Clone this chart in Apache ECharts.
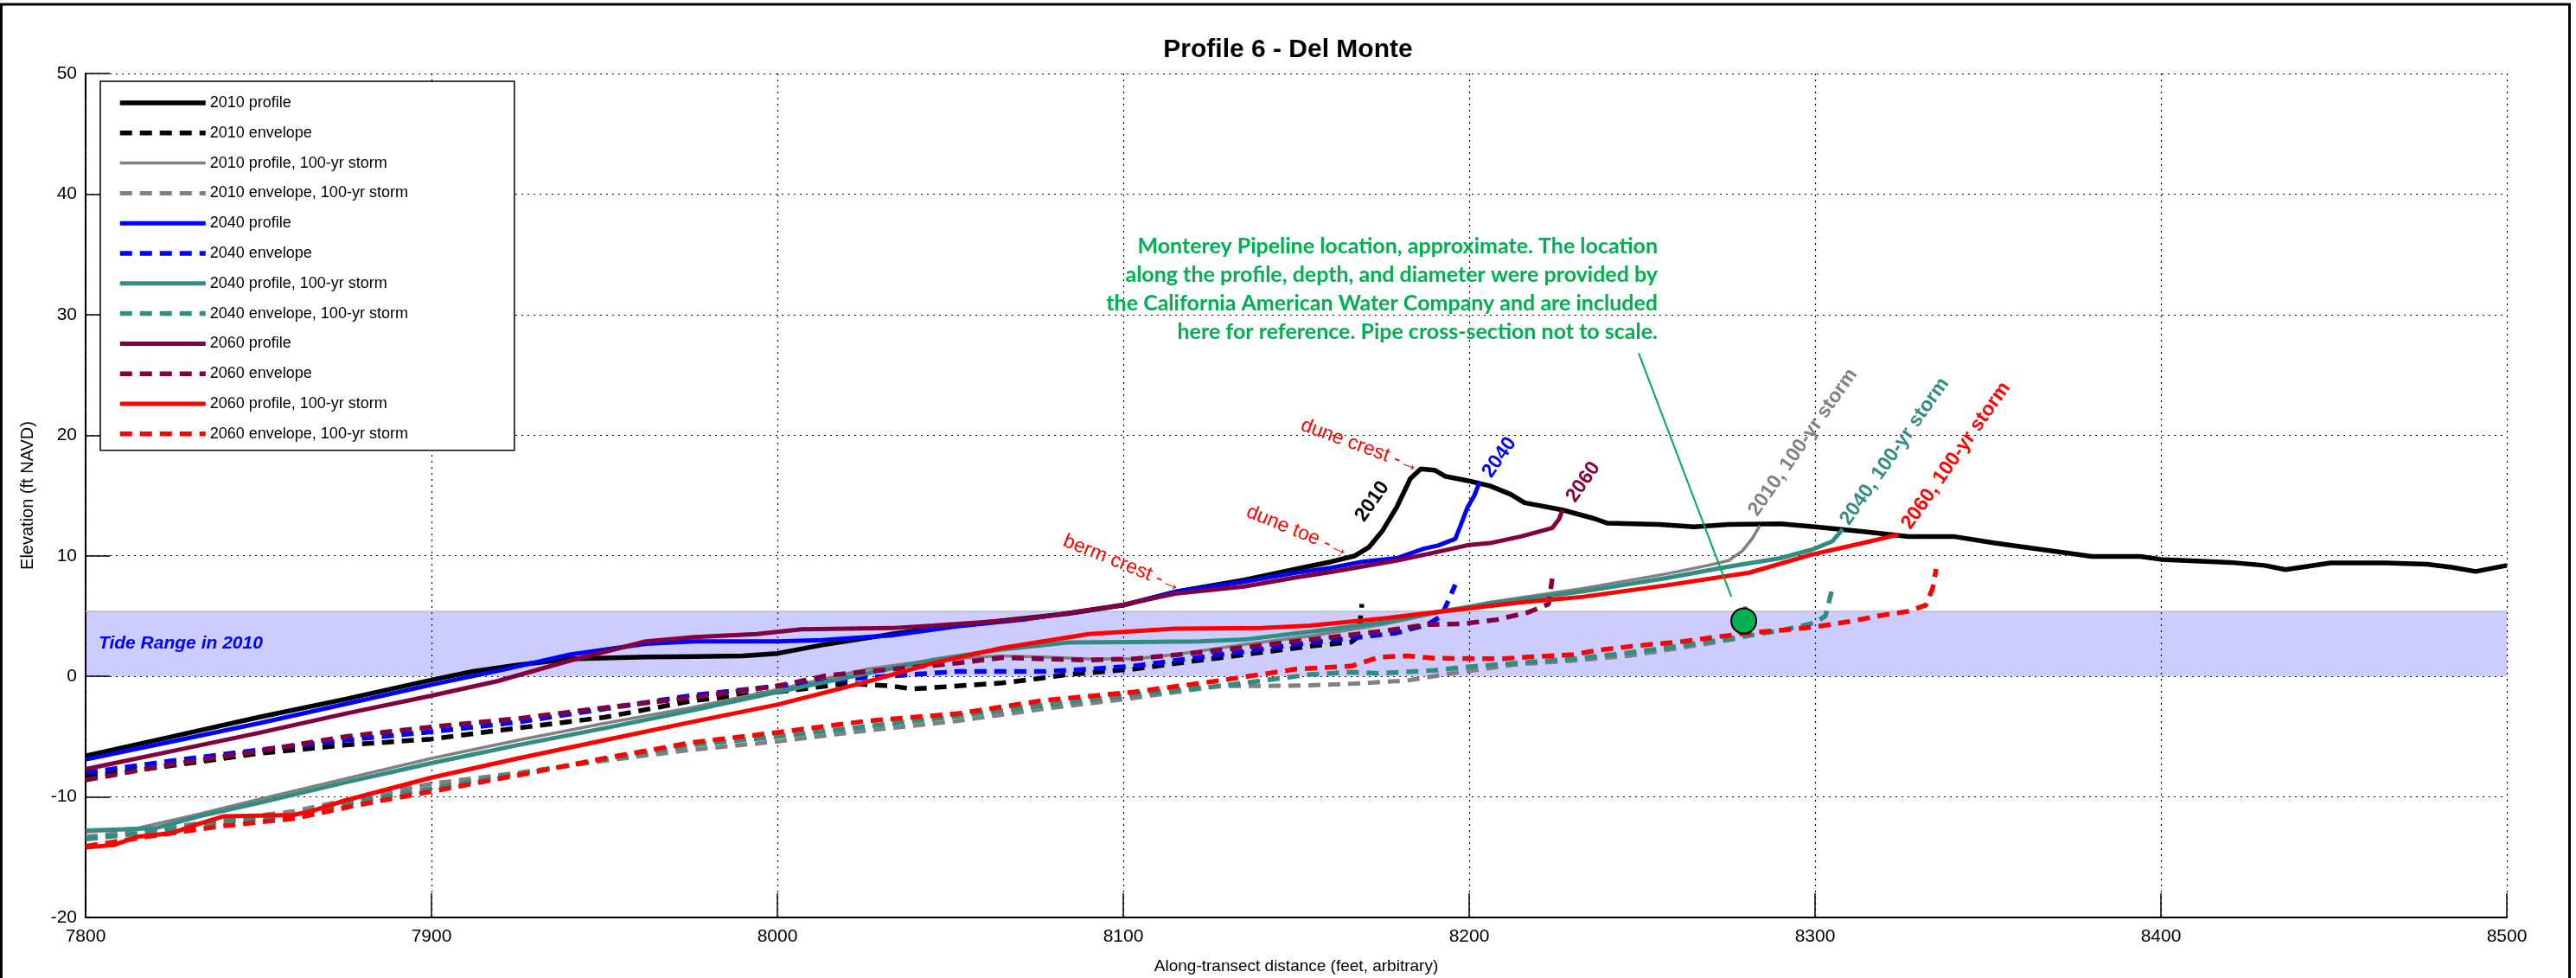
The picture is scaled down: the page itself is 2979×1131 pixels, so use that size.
<!DOCTYPE html>
<html>
<head>
<meta charset="utf-8">
<title>Profile 6 - Del Monte</title>
<script src="https://cdn.jsdelivr.net/npm/echarts@6/dist/echarts.min.js"></script>
<style>
html, body { margin: 0; padding: 0; background: #fff; }
#chart { width: 2979px; height: 1131px; }
</style>
</head>
<body>
<div id="chart"></div>
<script>
// along-transect distance (ft) / elevation (ft NAVD) pairs
var profile2010 = [[7800,-6.6],[7825,-5.0],[7850,-3.4],[7875,-1.9],[7900,-0.3],[7912,0.4],[7925,0.95],[7940,1.45],[7962,1.6],[7976,1.65],[7990,1.7],[8000,1.9],[8013,2.6],[8033,3.5],[8052,4.2],[8071,4.8],[8084,5.2],[8100,5.9],[8115,7.0],[8135,8.0],[8150,8.9],[8160,9.5],[8167,10.0],[8171,10.7],[8175,12.1],[8179,14.0],[8183,16.4],[8186,17.2],[8190,17.1],[8193,16.6],[8200,16.2],[8206,15.8],[8212,15.1],[8216,14.4],[8227,13.8],[8236,13.1],[8240,12.7],[8255,12.6],[8265,12.4],[8275,12.6],[8290,12.65],[8300,12.4],[8314,12.0],[8327,11.6],[8340,11.6],[8352,11.05],[8361,10.7],[8371,10.3],[8380,9.95],[8394,9.95],[8400,9.7],[8420,9.45],[8430,9.2],[8436,8.85],[8449,9.4],[8465,9.4],[8477,9.3],[8484,9.05],[8491,8.7],[8500,9.2]];
var envelope2010 = [[7800,-8.3],[7825,-7.4],[7850,-6.4],[7875,-5.7],[7900,-5.2],[7919,-4.5],[7950,-3.4],[7976,-2.0],[8000,-1.3],[8020,-0.6],[8033,-0.8],[8039,-1.05],[8052,-0.8],[8065,-0.55],[8075,-0.2],[8084,0.15],[8103,0.6],[8116,1.1],[8135,1.8],[8154,2.5],[8166,2.85],[8168,3.3],[8169,6.0]];
var storm2010 = [[7800,-12.9],[7815,-12.6],[7833,-11.4],[7850,-10.2],[7875,-8.5],[7900,-6.8],[7925,-5.3],[7950,-3.9],[7975,-2.6],[8000,-1.1],[8026,0.6],[8045,1.35],[8064,1.7],[8077,1.6],[8090,1.45],[8103,1.45],[8115,1.8],[8135,2.65],[8154,3.35],[8175,4.3],[8190,5.2],[8205,6.1],[8233,7.3],[8257,8.5],[8269,9.2],[8275,9.6],[8279,10.4],[8282,11.5],[8284,12.5]];
var stormEnvelope2010 = [[7800,-13.3],[7820,-12.7],[7840,-11.9],[7860,-11.2],[7880,-10.0],[7900,-8.9],[7925,-8.0],[7950,-7.0],[7975,-6.1],[8000,-5.4],[8026,-4.5],[8052,-3.7],[8077,-2.7],[8103,-1.8],[8128,-0.8],[8141,-0.8],[8154,-0.75],[8167,-0.6],[8182,-0.35],[8195,0.25],[8214,1.0],[8230,1.3],[8246,1.7],[8262,2.4],[8278,3.15],[8280,5.8]];

var profile2040 = [[7800,-6.9],[7825,-5.4],[7850,-3.9],[7875,-2.3],[7900,-0.7],[7920,0.5],[7940,1.8],[7962,2.7],[7976,2.9],[8000,2.9],[8013,3.0],[8033,3.4],[8052,4.15],[8071,4.7],[8090,5.5],[8100,5.9],[8115,7.0],[8135,7.85],[8150,8.6],[8160,9.0],[8169,9.5],[8179,9.8],[8187,10.6],[8191,10.85],[8196,11.4],[8197.5,12.5],[8199.5,14.0],[8201.5,15.0],[8203,16.1]];
var envelope2040 = [[7800,-8.0],[7825,-7.0],[7850,-6.1],[7875,-5.3],[7900,-4.6],[7925,-3.8],[7950,-2.7],[7976,-1.55],[8000,-0.8],[8026,-0.1],[8052,0.4],[8077,0.4],[8090,0.6],[8103,0.85],[8116,1.35],[8135,2.05],[8154,2.8],[8167,3.2],[8179,3.6],[8188,4.3],[8192,5.0],[8194,6.3],[8196,7.6]];
var storm2040 = [[7800,-12.8],[7810,-12.7],[7820,-12.6],[7833,-11.6],[7850,-10.5],[7875,-8.8],[7900,-7.2],[7925,-5.7],[7950,-4.3],[7975,-2.85],[8000,-1.3],[8026,0.25],[8045,1.35],[8064,2.2],[8084,2.8],[8103,2.85],[8122,2.9],[8135,3.05],[8154,3.7],[8175,4.45],[8190,5.3],[8205,6.0],[8233,7.05],[8257,8.15],[8275,9.1],[8290,9.8],[8299,10.5],[8305,11.2],[8308,12.2]];
var stormEnvelope2040 = [[7800,-13.5],[7820,-12.9],[7840,-12.0],[7860,-11.5],[7880,-10.3],[7900,-9.3],[7925,-8.1],[7950,-6.9],[7975,-5.7],[8000,-5.0],[8026,-4.15],[8052,-3.3],[8077,-2.4],[8103,-1.5],[8128,-0.8],[8154,0.15],[8166,0.35],[8174,0.25],[8190,0.5],[8198,0.75],[8214,1.1],[8230,1.45],[8246,1.95],[8262,2.55],[8278,3.25],[8291,3.85],[8300,4.45],[8303,5.0],[8305,7.3]];

var profile2060 = [[7800,-7.7],[7825,-6.2],[7850,-4.7],[7875,-3.1],[7900,-1.6],[7919,-0.4],[7940,1.3],[7962,2.9],[7976,3.25],[7994,3.5],[8007,3.9],[8020,3.95],[8033,4.0],[8045,4.2],[8065,4.6],[8077,4.95],[8090,5.5],[8100,5.95],[8115,6.85],[8135,7.45],[8150,8.2],[8160,8.65],[8169,9.1],[8179,9.6],[8189,10.2],[8200,10.9],[8206,11.05],[8215,11.6],[8224,12.3],[8226,13.05],[8227,13.8]];
var envelope2060 = [[7800,-8.6],[7825,-7.3],[7850,-6.2],[7875,-5.0],[7900,-4.2],[7925,-3.5],[7950,-2.6],[7976,-1.75],[8000,-0.8],[8014,0.05],[8026,0.4],[8039,0.75],[8052,1.1],[8065,1.55],[8077,1.45],[8090,1.35],[8103,1.45],[8116,1.8],[8135,2.4],[8154,3.05],[8175,3.75],[8188,4.3],[8198,4.35],[8208,4.7],[8217,5.3],[8223,6.0],[8224,8.1]];
var storm2060 = [[7800,-14.2],[7808,-14.0],[7815,-13.3],[7825,-13.0],[7832,-12.3],[7840,-11.6],[7860,-11.5],[7865,-11.2],[7875,-10.3],[7900,-8.4],[7925,-6.8],[7950,-5.3],[7975,-3.8],[8000,-2.35],[8026,-0.45],[8045,1.1],[8064,2.3],[8090,3.5],[8115,3.95],[8140,4.0],[8154,4.2],[8175,4.8],[8193,5.4],[8214,6.1],[8233,6.6],[8257,7.55],[8281,8.6],[8299,10.1],[8313,11.0],[8324,11.75]];
var stormEnvelope2060 = [[7800,-14.1],[7820,-13.2],[7840,-12.4],[7860,-11.8],[7880,-10.6],[7900,-9.55],[7925,-8.2],[7950,-6.8],[7975,-5.5],[8000,-4.65],[8026,-3.7],[8052,-3.1],[8077,-2.0],[8103,-1.3],[8128,-0.35],[8150,0.6],[8166,0.85],[8174,1.6],[8182,1.7],[8190,1.5],[8209,1.45],[8217,1.6],[8230,1.8],[8238,2.2],[8249,2.55],[8262,2.9],[8271,3.25],[8281,3.6],[8291,3.85],[8300,4.1],[8310,4.55],[8319,5.05],[8327,5.4],[8332,5.9],[8334,7.3],[8335,8.9]];

var tideRange = [0, 5.4];
var pipeLocation = [8279.4, 4.6];
var xTicks = [7800, 8500, 100];
var yTicks = [-20, 50, 10];

var FONT = "'Liberation Sans', Arial, sans-serif";

function line(name, data, color, width, dashed) {
  return {
    name: name,
    type: "line",
    data: data,
    symbol: "none",
    showSymbol: false,
    silent: true,
    z: 3,
    itemStyle: { color: color },
    lineStyle: { color: color, width: width, type: dashed ? [14, 9] : "solid" },
  };
}

var chart = echarts.init(document.getElementById("chart"));

var option = {
  animation: false,
  backgroundColor: "#fff",
  title: {
    text: "Profile 6 - Del Monte",
    left: "center",
    top: 38,
    padding: [5, 5, 5, 24],
    textStyle: { fontFamily: FONT, fontWeight: "bold", fontSize: 30, color: "#000" },
  },
  legend: {
    data: [
      "2010 profile", "2010 envelope", "2010 profile, 100-yr storm", "2010 envelope, 100-yr storm",
      "2040 profile", "2040 envelope", "2040 profile, 100-yr storm", "2040 envelope, 100-yr storm",
      "2060 profile", "2060 envelope", "2060 profile, 100-yr storm", "2060 envelope, 100-yr storm",
    ],
    orient: "vertical",
    left: 116,
    top: 94,
    padding: [15, 123, 9, 20],
    itemGap: 14.8,
    itemWidth: 99,
    itemHeight: 20,
    backgroundColor: "#fff",
    borderColor: "#000",
    borderWidth: 1.5,
    selectedMode: false,
    itemStyle: { color: "rgba(0,0,0,0)", borderWidth: 0, opacity: 0 },
    lineStyle: { width: "inherit" },
    textStyle: { fontFamily: FONT, fontSize: 18, color: "#000", lineHeight: 20 },
  },
  grid: { left: 99, right: 80, top: 85, bottom: 70, containLabel: false, outerBoundsMode: "none" },
  xAxis: {
    type: "value",
    min: xTicks[0],
    max: xTicks[1],
    interval: xTicks[2],
    name: "Along-transect distance (feet, arbitrary)",
    nameLocation: "middle",
    nameGap: 47,
    nameTextStyle: { fontFamily: FONT, fontSize: 19, color: "#000" },
    axisLine: { show: true, onZero: false, lineStyle: { color: "#000", width: 2 } },
    axisTick: { show: true, inside: true, length: 28, lineStyle: { color: "#000", width: 1.5 } },
    axisLabel: { fontFamily: FONT, fontSize: 21, color: "#000", margin: 12, formatter: function (v) { return String(v); } },
    splitLine: { show: true, lineStyle: { color: "#000", width: 1.2, type: [2, 5] } },
  },
  yAxis: {
    type: "value",
    min: yTicks[0],
    max: yTicks[1],
    interval: yTicks[2],
    name: "Elevation (ft NAVD)",
    nameLocation: "middle",
    nameGap: 57,
    nameTextStyle: { fontFamily: FONT, fontSize: 20, color: "#000" },
    axisLine: { show: true, onZero: false, lineStyle: { color: "#000", width: 2 } },
    axisTick: { show: true, inside: true, length: 28, lineStyle: { color: "#000", width: 1.5 } },
    axisLabel: { fontFamily: FONT, fontSize: 21, color: "#000", margin: 10, formatter: function (v) { return String(v); } },
    splitLine: { show: true, lineStyle: { color: "#000", width: 1.2, type: [2, 5] } },
  },
  series: [
    {
      name: "tide",
      type: "line",
      data: [],
      silent: true,
      z: 1,
      markArea: {
        silent: true,
        z: 1,
        itemStyle: { color: "rgba(0,0,255,0.2)" },
        label: {
          show: true,
          position: "insideLeft",
          offset: [10, 0],
          formatter: "Tide Range in 2010",
          fontFamily: FONT,
          fontSize: 21,
          fontWeight: "bold",
          fontStyle: "italic",
          color: "#0000ff",
        },
        data: [[{ xAxis: xTicks[0], yAxis: tideRange[0] }, { xAxis: xTicks[1], yAxis: tideRange[1] }]],
      },
      markLine: {
        silent: true,
        z: 1,
        symbol: "none",
        label: { show: false },
        lineStyle: { color: "#c0c0c0", width: 1.5, type: "solid" },
        data: [{ yAxis: tideRange[1] }],
      },
    },
    line("2010 profile", profile2010, "#000000", 5.5, false),
    line("2010 envelope", envelope2010, "#000000", 5.5, true),
    line("2010 profile, 100-yr storm", storm2010, "#808080", 3.5, false),
    line("2010 envelope, 100-yr storm", stormEnvelope2010, "#808080", 5, true),
    line("2040 profile", profile2040, "#0000ff", 5, false),
    line("2040 envelope", envelope2040, "#0000ff", 5.5, true),
    line("2040 profile, 100-yr storm", storm2040, "#338c82", 5, false),
    line("2040 envelope, 100-yr storm", stormEnvelope2040, "#338c82", 5.5, true),
    line("2060 profile", profile2060, "#800040", 5, false),
    line("2060 envelope", envelope2060, "#800040", 5.5, true),
    line("2060 profile, 100-yr storm", storm2060, "#ff0000", 5, false),
    line("2060 envelope, 100-yr storm", stormEnvelope2060, "#ff0000", 5.5, true),
    {
      name: "pipeline",
      type: "scatter",
      data: [pipeLocation],
      symbol: "circle",
      symbolSize: 29,
      silent: true,
      z: 10,
      itemStyle: { color: "#00b050", borderColor: "#000", borderWidth: 2, opacity: 1 },
      markLine: {
        silent: true,
        symbol: ["none", "arrow"],
        symbolSize: [1, 18],
        label: { show: false },
        lineStyle: { color: "#00b050", width: 2, type: "solid" },
        data: [[{ coord: [8249, 26.8] }, { coord: [8275.8, 6.6] }]],
      },
    },
  ],
};

chart.setOption(option);

// rotated annotations, placed in data coordinates
var notes = [
  { text: "dune crest -\u2192", at: [8168.5, 19.1], rot: -20, color: "#ff0000", size: 23, weight: "normal" },
  { text: "dune toe -\u2192", at: [8150.5, 12.0], rot: -22, color: "#ff0000", size: 23, weight: "normal" },
  { text: "berm crest -\u2192", at: [8099.75, 9.33], rot: -22, color: "#ff0000", size: 23, weight: "normal" },
  { text: "2010", at: [8172, 14.5], rot: 55, color: "#000000", size: 23, weight: "bold" },
  { text: "2040", at: [8208.75, 18.15], rot: 55, color: "#0000ff", size: 23, weight: "bold" },
  { text: "2060", at: [8233, 16.1], rot: 55, color: "#800040", size: 23, weight: "bold" },
  { text: "2010, 100-yr storm", at: [8296.5, 19.4], rot: 55, color: "#808080", size: 23, weight: "bold" },
  { text: "2040, 100-yr storm", at: [8323, 18.65], rot: 55, color: "#338c82", size: 23, weight: "bold" },
  { text: "2060, 100-yr storm", at: [8340.75, 18.3], rot: 55, color: "#ff0000", size: 23, weight: "bold" },
];

var pipeNote = [
  "Monterey Pipeline location, approximate. The location",
  "along the profile, depth, and diameter were provided by",
  "the California American Water Company and are included",
  "here for reference. Pipe cross-section not to scale.",
];

var toPx = function (p) {
  return chart.convertToPixel({ xAxisIndex: 0, yAxisIndex: 0 }, p);
};

var graphics = notes.map(function (n) {
  var p = toPx(n.at);
  return {
    type: "text",
    x: p[0],
    y: p[1],
    rotation: (n.rot * Math.PI) / 180,
    z: 20,
    silent: true,
    style: {
      text: n.text,
      fill: n.color,
      fontFamily: FONT,
      fontSize: n.size,
      fontWeight: n.weight,
      align: "center",
      verticalAlign: "middle",
    },
  };
});

var notePos = toPx([8254.5, 32.1]);
graphics.push({
  type: "text",
  x: notePos[0],
  y: notePos[1],
  z: 20,
  silent: true,
  style: {
    text: pipeNote.join("\n"),
    fill: "#00b050",
    fontFamily: "Lato, 'Open Sans', sans-serif",
    fontSize: 25,
    fontWeight: "bold",
    lineHeight: 33,
    align: "right",
    verticalAlign: "middle",
  },
});

// outer frame of the figure window
graphics.push({
  type: "rect",
  silent: true,
  z: 30,
  shape: { x: 1.5, y: 5, width: 2970, height: 1200 },
  style: { fill: "none", stroke: "#000", lineWidth: 3 },
});

chart.setOption({ graphic: graphics });
</script>
</body>
</html>
